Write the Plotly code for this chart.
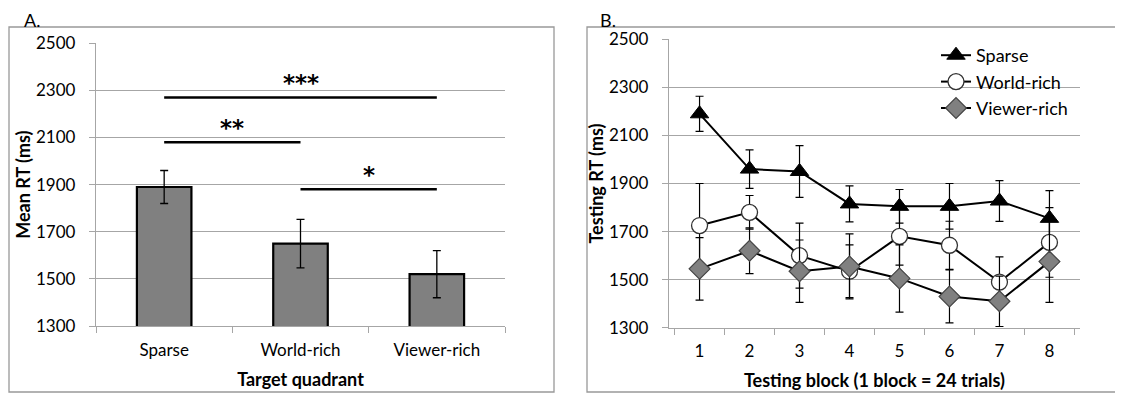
import plotly.graph_objects as go

W, H = 1123, 394
OFF = 8  # default page body margin

# ---- Panel A data ----
quadrants = ["Sparse", "World-rich", "Viewer-rich"]
mean_rt = [1890, 1650, 1520]
mean_err = [70, 103, 100]
sig_pairs = [("Sparse", "Viewer-rich"), ("Sparse", "World-rich"), ("World-rich", "Viewer-rich")]
sig_heights = [2270, 2080, 1880]
sig_labels = ["***", "**", "*"]

# ---- Panel B data ----
blocks = ["1", "2", "3", "4", "5", "6", "7", "8"]
sparse_rt = [2190, 1960, 1950, 1815, 1805, 1805, 1827, 1755]
sparse_err = [73, 80, 108, 75, 70, 95, 85, 115]
world_rt = [1725, 1780, 1600, 1535, 1680, 1643, 1490, 1655]
world_err = [175, 70, 135, 110, 120, 100, 105, 145]
viewer_rt = [1545, 1620, 1535, 1555, 1505, 1430, 1410, 1575]
viewer_err = [130, 95, 130, 135, 140, 110, 105, 170]

y_ticks = [1300, 1500, 1700, 1900, 2100, 2300, 2500]

FONT = "Lato"
GRID = "#a6a6a6"
FW, FH = W - OFF, H - OFF

def px_x(p):
    return (p - OFF) / FW

def px_y(p):
    return 1 - (p - OFF) / FH

fig = go.Figure()

# Panel A bars
fig.add_trace(go.Bar(
    x=quadrants, y=mean_rt, width=0.4,
    marker=dict(color="#808080", line=dict(color="black", width=2.2)),
    error_y=dict(type="data", array=mean_err, color="black", thickness=1.3, width=4),
    xaxis="x", yaxis="y", showlegend=False,
))

# significance lines
for (a, b), h in zip(sig_pairs, sig_heights):
    fig.add_trace(go.Scatter(
        x=[a, b], y=[h, h], mode="lines",
        line=dict(color="black", width=2.5),
        xaxis="x", yaxis="y", showlegend=False, hoverinfo="skip",
    ))

annotations = []
for (a, b), h, lab in zip(sig_pairs, sig_heights, sig_labels):
    mid = (quadrants.index(a) + quadrants.index(b)) / 2
    annotations.append(dict(
        x=mid, y=h, xref="x", yref="y", text="<b>" + lab + "</b>",
        showarrow=False, yanchor="bottom", yshift=-1,
        font=dict(family="DejaVu Sans", size=23, color="black"),
    ))

# Panel B lines
series = [
    ("Sparse", sparse_rt, sparse_err, dict(symbol="triangle-up", size=16, color="black",
                                           line=dict(color="black", width=1))),
    ("World-rich", world_rt, world_err, dict(symbol="circle", size=16, color="white",
                                             line=dict(color="#333333", width=1.3))),
    ("Viewer-rich", viewer_rt, viewer_err, dict(symbol="diamond", size=16, color="#808080",
                                                line=dict(color="#444444", width=1.2))),
]
for name, vals, errs, mk in series:
    fig.add_trace(go.Scatter(
        x=blocks, y=vals, name=name, mode="lines+markers",
        line=dict(color="black", width=2),
        marker=mk,
        error_y=dict(type="data", array=errs, color="black", thickness=1.2, width=4),
        xaxis="x2", yaxis="y2",
    ))

axis_common = dict(
    range=[1300, 2500], tickvals=y_ticks, showgrid=True, gridcolor=GRID, gridwidth=1.3,
    showline=True, linecolor=GRID, linewidth=1.3, ticks="outside", ticklen=6,
    tickcolor=GRID, tickfont=dict(family=FONT, size=17, color="black"), zeroline=False,
    ticklabelstandoff=10,
)
xaxis_common = dict(
    type="category", showline=True, linecolor=GRID, linewidth=1.3, ticks="outside",
    tickson="boundaries", ticklen=6, tickcolor=GRID, showgrid=False,
    tickfont=dict(family=FONT, size=17, color="black"), ticklabelstandoff=8,
)

fig.update_layout(
    width=FW, height=FH, margin=dict(l=0, r=0, t=0, b=0, autoexpand=False),
    paper_bgcolor="white", plot_bgcolor="white",
    font=dict(family=FONT, color="black"),
    xaxis=dict(domain=[px_x(96), px_x(505)], anchor="y",
               title=dict(text="<b>Target quadrant</b>", font=dict(size=18), standoff=14),
               **xaxis_common),
    yaxis=dict(domain=[px_y(326), px_y(43.3)], anchor="x",
               title=dict(text="<b>Mean RT (ms)</b>", font=dict(size=18), standoff=0),
               **axis_common),
    xaxis2=dict(domain=[px_x(669), px_x(1080)], anchor="y2",
                title=dict(text="<b>Testing block (1 block = 24 trials)</b>", font=dict(size=18), standoff=14),
                **xaxis_common),
    yaxis2=dict(domain=[px_y(327.7), px_y(39.3)], anchor="x2",
                title=dict(text="<b>Testing RT (ms)</b>", font=dict(size=18), standoff=0),
                **axis_common),
    legend=dict(x=px_x(936), y=px_y(37), xanchor="left", yanchor="top",
                bgcolor="rgba(0,0,0,0)", font=dict(family=FONT, size=18),
                tracegroupgap=0, itemwidth=30),
    annotations=annotations + [
        dict(x=px_x(22), y=px_y(20), xref="paper", yref="paper", text="A.", showarrow=False,
             xanchor="left", yanchor="middle", font=dict(family=FONT, size=18)),
        dict(x=px_x(598), y=px_y(20), xref="paper", yref="paper", text="B.", showarrow=False,
             xanchor="left", yanchor="middle", font=dict(family=FONT, size=18)),
    ],
    shapes=[
        dict(type="rect", xref="paper", yref="paper", x0=px_x(9), x1=px_x(554),
             y0=px_y(392), y1=px_y(27), line=dict(color="#999999", width=1.3)),
        dict(type="rect", xref="paper", yref="paper", x0=px_x(587), x1=px_x(1135),
             y0=px_y(392), y1=px_y(27), line=dict(color="#999999", width=1.3)),
    ],
)

fig.write_html("out.html")
